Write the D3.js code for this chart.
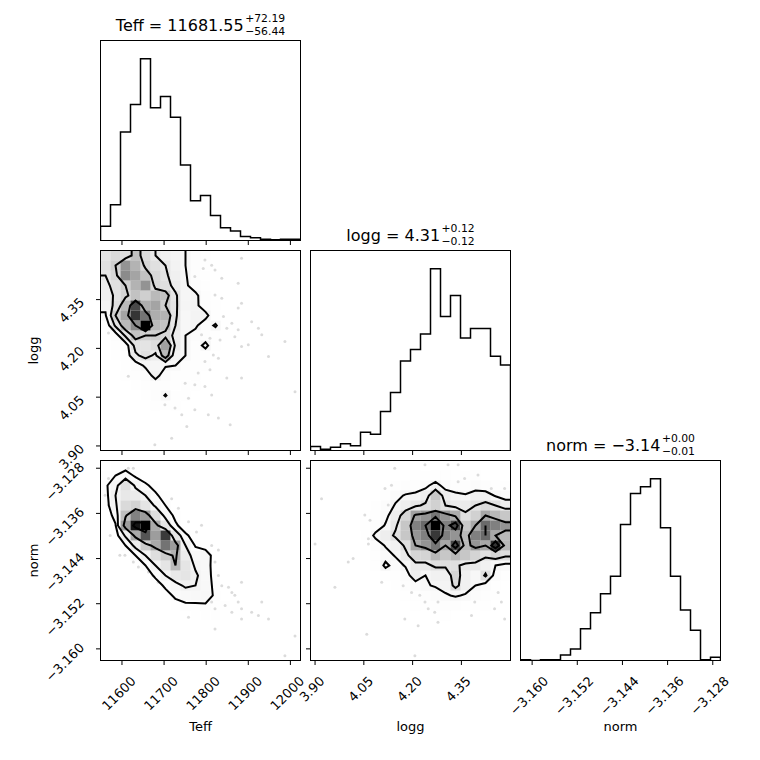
<!DOCTYPE html>
<html>
<head>
<meta charset="utf-8">
<script src="https://cdn.jsdelivr.net/npm/d3@7"></script>
<style>
body { margin: 0; background: #fff; }
text { font-family: "DejaVu Sans", sans-serif; fill: #000; }
</style>
</head>
<body>
<svg id="chart" width="760" height="760"></svg>
<script>
// parameters and axis ranges
const names = ["Teff", "logg", "norm"];
const ranges = [[11549, 12024], [3.886, 4.501], [-3.16206, -3.12663]];
const ticksTeff = [11600, 11700, 11800, 11900, 12000];
const ticksLogg = [3.90, 4.05, 4.20, 4.35];
const ticksNorm = [-3.160, -3.152, -3.144, -3.136, -3.128];
const tickFormats = [d3.format("d"), d3.format(".2f"), d3.format(".3f")];

const titleMedian = ["11681.55", "4.31", "\u22123.14"];
const titlePlus = ["+72.19", "+0.12", "+0.00"];
const titleMinus = ["\u221256.44", "\u22120.12", "\u22120.01"];

// 1D histograms, 20 bins
const histTeff = [21, 53, 161, 202, 270, 197, 214, 183, 112, 59, 67, 37, 19, 14, 6, 4, 2, 1, 2, 2];
const histLogg = [6, 2, 5, 10, 7, 27, 24, 58, 86, 133, 150, 173, 270, 199, 230, 167, 181, 181, 140, 127];
const histNorm = [1, 0, 1, 1, 8, 17, 47, 71, 99, 125, 202, 248, 258, 270, 197, 125, 75, 45, 1, 5];

// 2D histograms, 20x20, rows from top (high y) to bottom
const gridTeffLogg = [
  [30,35,32,45,35,28,22,18,16, 8, 5, 2, 1,0,0,0,0,0,0,0],
  [32,40,60,50,38,32,28,20,16, 9, 6, 3, 1,0,0,0,0,0,0,0],
  [28,36,62,55,45,36,30,22,17, 9, 6, 3, 1,0,0,0,0,0,0,0],
  [25,32,40,50,60,36,33,24,18,10, 7, 4, 1,0,0,0,0,0,0,0],
  [22,30,38,45,40,48,45,30,17,19, 8, 4, 2,0,0,0,0,0,0,0],
  [18,32,48,78,52,55,40,30,18,19, 9, 5, 2,0,0,0,0,0,0,0],
  [15,40,55,82,68,52,50,30,16,19,20, 6, 2,0,0,0,0,0,0,0],
  [ 8,30,48,62,92,48,45,28,16,18, 9,18, 3,0,0,0,0,0,0,0],
  [ 6,10,30,45,40,40,36,24,16,12, 8, 6, 3,1,0,0,0,0,0,0],
  [ 4, 8,10,32,30,34,56,26,16, 9,20, 5, 2,1,0,0,0,0,0,0],
  [ 3, 6, 9,26,32,26,48,20,16, 8, 7, 4, 2,1,0,0,0,0,0,0],
  [ 2, 4, 7,10,18,17,17,16, 9, 6, 5, 3, 1,0,0,0,0,0,0,0],
  [ 1, 3, 5, 8,10,20,10, 8, 7, 5, 4, 2, 1,0,0,0,0,0,0,0],
  [ 0, 2, 4, 6, 8, 9, 9, 7, 6, 5, 3, 2, 1,0,0,0,0,0,0,0],
  [ 0, 1, 2, 4, 6, 8,17, 7, 5, 4, 3, 2, 1,0,0,0,0,0,0,1],
  [ 0, 0, 1, 3, 4, 5, 6, 5, 4, 3, 2, 1, 1,0,0,0,0,0,0,0],
  [ 0, 0, 0, 1, 2, 3, 4, 3, 3, 2, 2, 1, 0,0,0,0,0,0,0,0],
  [ 0, 0, 0, 0, 1, 2, 2, 2, 2, 1, 1, 1, 0,0,0,0,0,0,0,0],
  [ 0, 0, 0, 0, 0, 1, 1, 1, 1, 1, 0, 0, 0,0,0,0,0,0,0,0],
  [ 0, 0, 0, 0, 0, 0, 0, 1, 0, 0, 0, 0, 0,0,0,0,0,0,0,0]
];
const gridTeffNorm = [
  [ 4, 5, 4, 2, 1, 0, 0, 0, 0, 0, 0, 0, 0, 0, 0, 0, 0, 0, 0, 0],
  [ 6,10,16, 8, 4, 2, 1, 0, 0, 0, 0, 0, 0, 0, 0, 0, 0, 0, 0, 0],
  [ 8,18,35,20,12, 6, 2, 1, 0, 0, 0, 0, 0, 0, 0, 0, 0, 0, 0, 0],
  [ 6,22,30,28,22,12, 5, 2, 1, 0, 0, 0, 0, 0, 0, 0, 0, 0, 0, 0],
  [ 5,20,38,42,32,20,10, 4, 2, 1, 0, 0, 0, 0, 0, 0, 0, 0, 0, 0],
  [ 3,14,50,70,62,36,18, 7, 3, 1, 0, 0, 0, 0, 0, 0, 0, 0, 0, 0],
  [ 2, 9,62,96,100,58,32,12, 4, 2, 1, 0, 0, 0, 0, 0, 0, 0, 0, 0],
  [ 1, 5,24,58,82,62,88,32,12, 5, 2, 1, 0, 0, 0, 0, 0, 0, 0, 0],
  [ 0, 2,10,26,45,58,74,62,22, 9, 4, 1, 0, 0, 0, 0, 0, 0, 0, 0],
  [ 0, 1, 4,10,22,36,45,55,28,16,18, 3, 1, 0, 0, 0, 0, 0, 0, 0],
  [ 0, 0, 2, 4,10,22,32,52,32,20,16, 4, 1, 0, 0, 0, 0, 0, 0, 0],
  [ 0, 0, 1, 2, 4,12,22,30,32,24,16, 5, 2, 0, 0, 0, 0, 0, 0, 0],
  [ 0, 0, 0, 1, 2, 5,12,18,24,22,17, 6, 3, 1, 0, 0, 0, 0, 0, 0],
  [ 0, 0, 0, 0, 1, 3, 6,12,15,16,18, 7, 4, 2, 1, 0, 0, 0, 0, 0],
  [ 0, 0, 0, 0, 0, 1, 3, 6, 8, 8, 8, 7, 5, 3, 2, 1, 0, 0, 0, 0],
  [ 0, 0, 0, 0, 0, 0, 1, 3, 4, 5, 6, 5, 4, 3, 2, 1, 0, 0, 0, 0],
  [ 0, 0, 0, 0, 0, 0, 0, 1, 2, 3, 3, 3, 3, 2, 2, 1, 0, 0, 0, 0],
  [ 0, 0, 0, 0, 0, 0, 0, 0, 1, 1, 2, 2, 2, 2, 1, 1, 0, 0, 0, 0],
  [ 0, 0, 0, 0, 0, 0, 0, 0, 0, 1, 1, 1, 1, 1, 1, 1, 0, 0, 0, 0],
  [ 0, 0, 0, 0, 0, 0, 0, 0, 0, 0, 0, 0, 0, 0, 0, 1, 0, 0, 1, 0]
];
const gridLoggNorm = [
  [0,0,0,0,0,0,0,1,2,1,1,2,2,1,2,2,1,1,2,1],
  [0,0,0,0,0,0,1,2,3,3,4,5,6,4,4,5,4,3,3,3],
  [0,0,0,0,0,1,2,3,5,7,8,12,20,10,8,8,10,8,6,5],
  [0,0,0,0,1,2,3,6,12,16,18,22,40,22,18,16,20,20,14,10],
  [0,0,0,0,1,2,5,9,16,22,26,30,36,28,24,24,28,32,28,22],
  [0,0,0,1,2,3,6,12,22,34,52,55,62,55,48,30,36,50,45,40],
  [0,0,0,1,2,4,8,16,26,40,60,65,85,60,72,40,50,65,60,55],
  [0,0,0,1,2,5,18,22,30,40,55,60,75,60,55,45,60,65,50,45],
  [0,0,0,1,2,3,8,16,20,30,50,55,62,50,72,45,55,50,76,45],
  [0,0,0,0,1,3,6,10,16,25,35,35,45,40,45,40,35,30,35,30],
  [0,0,0,0,1,2,4,18,10,16,25,25,30,30,30,25,25,20,15,12],
  [0,0,0,0,0,1,3,6,8,10,22,15,20,20,35,20,15,30,10,6],
  [0,0,0,0,0,1,2,3,5,8,10,14,16,18,32,20,15,10,6,3],
  [0,0,0,0,0,0,1,2,3,4,6,8,10,14,16,14,10,8,5,3],
  [0,0,0,0,0,0,0,1,2,3,4,5,6,8,8,6,5,4,3,2],
  [0,0,0,0,0,0,0,0,1,2,2,3,3,4,3,3,2,2,1,1],
  [0,0,0,0,0,0,0,0,0,1,1,2,2,2,1,2,1,1,1,0],
  [0,0,0,0,0,0,0,0,0,0,1,1,1,1,0,0,0,0,0,0],
  [0,0,0,0,0,0,0,0,0,0,0,0,0,0,0,0,0,0,0,0],
  [0,0,0,0,0,0,0,0,0,0,1,0,0,0,0,0,0,0,0,0]
];

// samples visible outside the contours
const ptsTeffLogg = [
  [11797,4.472],[11813,4.456],[11793,4.446],[11821,4.441],[11884,4.477],[11773,4.421],[11837,4.416],
  [11876,4.400],[11821,4.364],[11837,4.354],[11884,4.339],[11876,4.324],[11841,4.298],[11861,4.277],
  [11849,4.262],[11876,4.257],[11908,4.282],[11924,4.262],[11932,4.242],[11789,4.242],[11809,4.231],
  [11833,4.226],[11868,4.236],[11884,4.206],[11900,4.211],[11948,4.175],[11987,4.221],[11817,4.180],
  [11829,4.170],[11797,4.160],[11781,4.124],[11809,4.134],[11849,4.109],[11884,4.109],[11750,4.093],
  [11773,4.088],[11797,4.083],[11813,4.057],[11758,4.047],[11726,4.017],[11742,3.996],[11773,4.011],
  [11805,3.996],[11829,3.986],[11857,3.965],[11754,3.960],[11718,3.924],[11678,3.904],[11568,4.247],
  [11615,4.114],[11702,4.027],[12011,4.067]
];
const ptsTeffNorm = [
  [11615,-3.1280],[11627,-3.1280],[11568,-3.1298],[11576,-3.1310],[11560,-3.1328],[11568,-3.1345],
  [11572,-3.1399],[11595,-3.1434],[11607,-3.1434],[11627,-3.1446],[11639,-3.1455],[11663,-3.1464],
  [11674,-3.1470],[11686,-3.1482],[11718,-3.1494],[11726,-3.1511],[11754,-3.1505],[11773,-3.1517],
  [11758,-3.1544],[11777,-3.1393],[11758,-3.1375],[11789,-3.1381],[11813,-3.1417],[11829,-3.1425],
  [11821,-3.1446],[11809,-3.1452],[11829,-3.1470],[11837,-3.1488],[11853,-3.1491],[11861,-3.1500],
  [11868,-3.1505],[11876,-3.1517],[11884,-3.1482],[11813,-3.1517],[11821,-3.1529],[11845,-3.1523],
  [11861,-3.1535],[11884,-3.1547],[11908,-3.1535],[11924,-3.1541],[11948,-3.1547],[11932,-3.1517],
  [11884,-3.1529],[11821,-3.1565],[12011,-3.1577],[11987,-3.1612],[11718,-3.1334],[11734,-3.1351]
];
const ptsLoggNorm = [
  [3.920,-3.1334],[3.900,-3.1414],[3.961,-3.1491],[4.002,-3.1446],[4.017,-3.1440],[4.053,-3.1363],
  [4.069,-3.1372],[4.064,-3.1405],[4.064,-3.1414],[4.115,-3.1316],[4.135,-3.1310],[4.125,-3.1345],
  [4.145,-3.1280],[4.176,-3.1434],[4.105,-3.1482],[4.171,-3.1488],[4.197,-3.1500],[4.222,-3.1505],
  [4.238,-3.1517],[4.278,-3.1517],[4.248,-3.1529],[4.268,-3.1535],[4.176,-3.1547],[4.171,-3.1452],
  [4.309,-3.1274],[4.340,-3.1274],[4.360,-3.1298],[4.401,-3.1292],[4.442,-3.1316],[4.483,-3.1316],
  [4.473,-3.1340],[4.463,-3.1500],[4.473,-3.1517],[4.452,-3.1529],[4.483,-3.1547],[4.391,-3.1517],
  [4.381,-3.1541],[4.278,-3.1553],[4.217,-3.1559],[4.059,-3.1574],[4.207,-3.1612],[4.340,-3.1304],
  [4.238,-3.1274]
];

const sigLevels = [0.5, 1, 1.5, 2].map(s => 1 - Math.exp(-0.5 * s * s));

const ticksAll = [ticksTeff, ticksLogg, ticksNorm];
const hists = [histTeff, histLogg, histNorm];
const grids = {"1-0": gridTeffLogg, "2-0": gridTeffNorm, "2-1": gridLoggNorm};
const points = {"1-0": ptsTeffLogg, "2-0": ptsTeffNorm, "2-1": ptsLoggNorm};

const svg = d3.select("#chart");
const S = 200;
const lefts = [100.5, 310.5, 520.5];
const tops = [40.5, 250.5, 460.5];

const xs = ranges.map((r, j) => d3.scaleLinear().domain(r).range([lefts[j], lefts[j] + S]));
const ys = ranges.map((r, i) => d3.scaleLinear().domain(r).range([tops[i] + S, tops[i]]));

const contourLevels = (grid) => {
    const flat = grid.flat().slice().sort((a, b) => b - a);
    const tot = d3.sum(flat);
    let cum = 0;
    const sm = flat.map(v => (cum += v) / tot);
    let V = sigLevels.map(v0 => {
        let val = flat[0];
        for (let k = 0; k < flat.length; k++) if (sm[k] <= v0) val = flat[k];
        return val;
    });
    V.sort((a, b) => a - b);
    let guard = 0;
    while (guard++ < 20) {
        const idx = V.findIndex((v, k) => k < V.length - 1 && V[k + 1] === v);
        if (idx < 0) break;
        V[idx] *= 1 - 1e-4;
        V.sort((a, b) => a - b);
    }
    return V;
}

const padGrid = (grid) => {
    // 24x24 like corner: edges replicated once, then a ring of zeros
    const n = 24;
    const out = new Array(n * n).fill(0);
    for (let r = 1; r < n - 1; r++) {
        for (let c = 1; c < n - 1; c++) {
            const gr = Math.min(19, Math.max(0, r - 2));
            const gc = Math.min(19, Math.max(0, c - 2));
            out[r * n + c] = grid[gr][gc];
        }
    }
    return out;
}

const addClip = (id, i, j) => {
    svg.append("clipPath").attr("id", id)
        .append("rect")
        .attr("x", lefts[j]).attr("y", tops[i])
        .attr("width", S).attr("height", S);
}

const drawFrame = (i, j, withY) => {
    const g = svg.append("g");
    g.append("rect")
        .attr("x", lefts[j]).attr("y", tops[i])
        .attr("width", S).attr("height", S)
        .attr("fill", "none").attr("stroke", "#000").attr("stroke-width", 1);
    g.selectAll(".xt").data(ticksAll[j]).join("line")
        .attr("x1", d => xs[j](d)).attr("x2", d => xs[j](d))
        .attr("y1", tops[i] + S).attr("y2", tops[i] + S + 4.5)
        .attr("stroke", "#000").attr("stroke-width", 1);
    if (withY) {
        g.selectAll(".yt").data(ticksAll[i]).join("line")
            .attr("y1", d => ys[i](d)).attr("y2", d => ys[i](d))
            .attr("x1", lefts[j]).attr("x2", lefts[j] - 4.5)
            .attr("stroke", "#000").attr("stroke-width", 1);
    }
}

const drawHist = (i) => {
    const counts = hists[i];
    const x = xs[i];
    const [a, b] = ranges[i];
    const edges = d3.range(21).map(k => a + k * (b - a) / 20);
    const y = d3.scaleLinear().domain([0, 1.1 * d3.max(counts)]).range([tops[i] + S, tops[i]]);
    const pts = [[edges[0], 0]]
        .concat(counts.map((c, k) => [edges[k], c]))
        .concat([[edges[20], counts[19]], [edges[20], 0]]);
    const line = d3.line().x(d => x(d[0])).y(d => y(d[1])).curve(d3.curveStepAfter);
    addClip("clip" + i + i, i, i);
    svg.append("path")
        .attr("d", line(pts))
        .attr("clip-path", `url(#clip${i}${i})`)
        .attr("fill", "none").attr("stroke", "#000").attr("stroke-width", 1.5);
    drawFrame(i, i, false);

    // title, with the errors stacked in one text element
    const base = tops[i] - 9.5;
    const main = svg.append("text").attr("font-size", 16).attr("y", base)
        .text(`${names[i]} = ${titleMedian[i]}`);
    const err = svg.append("text").attr("font-size", 10.8);
    const sup = err.append("tspan").attr("y", base - 9).text(titlePlus[i]);
    const sub = err.append("tspan").attr("y", base + 3.6).text(titleMinus[i]);
    const wm = main.node().getComputedTextLength();
    const ws = Math.max(sup.node().getComputedTextLength(), sub.node().getComputedTextLength());
    const x0 = lefts[i] + S / 2 - (wm + 1.5 + ws) / 2;
    main.attr("x", x0);
    sup.attr("x", x0 + wm + 1.5);
    sub.attr("x", x0 + wm + 1.5);
}

const draw2D = (i, j) => {
    const key = i + "-" + j;
    const grid = grids[key];
    const pts = points[key];
    const x = xs[j], y = ys[i];
    const id = "clip" + i + j;
    addClip(id, i, j);
    const g = svg.append("g").attr("clip-path", `url(#${id})`);

    // samples
    g.selectAll("circle").data(pts).join("circle")
        .attr("cx", d => x(d[0])).attr("cy", d => y(d[1]))
        .attr("r", 1.5).attr("fill", "#000").attr("fill-opacity", 0.14);

    const V = contourLevels(grid);
    const padded = padGrid(grid);
    const gx = d3.scaleLinear().domain([2, 22]).range(x.range());
    const gy = d3.scaleLinear().domain([2, 22]).range([y.range()[1], y.range()[0]]);
    const path = d3.geoPath(d3.geoTransform({
        point: function (px, py) { this.stream.point(gx(px), gy(py)); }
    }));
    const contours = d3.contours().size([24, 24]).thresholds(V)(padded);

    // white fill inside the lowest level hides samples there
    g.append("path").attr("d", path(contours[0])).attr("fill", "#fff");

    // density cells
    const hmax = d3.max(grid.flat());
    const [xa, xb] = ranges[j];
    const [ya, yb] = ranges[i];
    const ex = d3.range(21).map(k => xa + k * (xb - xa) / 20);
    const ey = d3.range(21).map(k => ya + k * (yb - ya) / 20);
    const cells = [];
    grid.forEach((row, r) => row.forEach((v, c) => { if (v > 0) cells.push({r, c, v}); }));
    g.selectAll("rect.cell").data(cells).join("rect")
        .attr("class", "cell")
        .attr("x", d => x(ex[d.c]))
        .attr("width", d => x(ex[d.c + 1]) - x(ex[d.c]))
        .attr("y", d => y(ey[20 - d.r]))
        .attr("height", d => y(ey[19 - d.r]) - y(ey[20 - d.r]))
        .attr("fill", d => { const k = Math.round(255 * (1 - d.v / hmax)); return d3.rgb(k, k, k); })
        .attr("fill-opacity", d => d.v / hmax);

    g.selectAll("path.ct").data(contours).join("path")
        .attr("class", "ct")
        .attr("d", d => path(d))
        .attr("fill", "none").attr("stroke", "#000")
        .attr("stroke-width", 2).attr("stroke-linejoin", "miter");

    drawFrame(i, j, true);
}

[0, 1, 2].forEach(drawHist);
[[1, 0], [2, 0], [2, 1]].forEach(([i, j]) => draw2D(i, j));

// x tick labels on bottom row
[0, 1, 2].forEach(j => {
    const yb = tops[2] + S + 21.5;
    ticksAll[j].forEach(t => {
        const txt = svg.append("text").attr("font-size", 13).attr("text-anchor", "end")
            .text(tickFormats[j](t));
        const w = txt.node().getComputedTextLength();
        const px = xs[j](t) + (w + 13) * 0.3535 - 4.5;
        txt.attr("x", px).attr("y", yb).attr("transform", `rotate(-45 ${px} ${yb})`);
    });
    svg.append("text").attr("font-size", 13).attr("text-anchor", "middle")
        .attr("x", lefts[j] + S / 2).attr("y", 731).text(names[j]);
});

// y tick labels on left column
[1, 2].forEach(i => {
    const px = lefts[0] - 15.5;
    ticksAll[i].forEach(t => {
        const txt = svg.append("text").attr("font-size", 13).attr("text-anchor", "end")
            .text(tickFormats[i](t));
        const w = txt.node().getComputedTextLength();
        const py = ys[i](t) + 9.7 - 0.21 * w;
        txt.attr("x", px).attr("y", py).attr("transform", `rotate(-45 ${px} ${py})`);
    });
    const cy = tops[i] + S / 2;
    svg.append("text").attr("font-size", 13).attr("text-anchor", "middle")
        .attr("x", 37.5).attr("y", cy)
        .attr("transform", `rotate(-90 37.5 ${cy})`).text(names[i]);
});
</script>
</body>
</html>
